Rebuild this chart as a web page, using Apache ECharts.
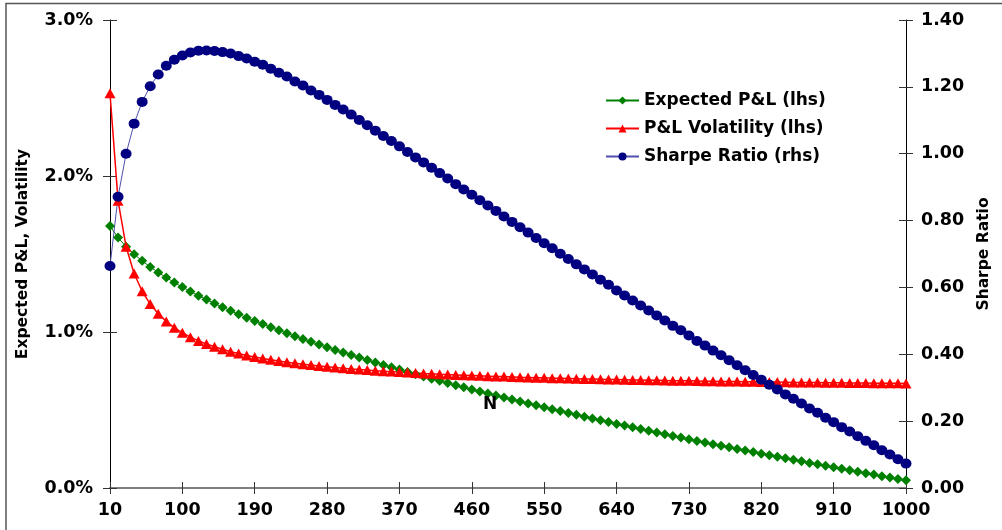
<!DOCTYPE html>
<html>
<head>
<meta charset="utf-8">
<script src="https://cdn.jsdelivr.net/npm/echarts@6/dist/echarts.min.js"></script>
<style>
html,body{margin:0;padding:0;background:#fff;}
#chart{width:1002px;height:530px;}
</style>
</head>
<body>
<div id="chart"></div>
<script>
const categories = [10,20,30,40,50,60,70,80,90,100,110,120,130,140,150,160,170,180,190,200,
210,220,230,240,250,260,270,280,290,300,310,320,330,340,350,360,370,380,390,400,
410,420,430,440,450,460,470,480,490,500,510,520,530,540,550,560,570,580,590,600,
610,620,630,640,650,660,670,680,690,700,710,720,730,740,750,760,770,780,790,800,
810,820,830,840,850,860,870,880,890,900,910,920,930,940,950,960,970,980,990,1000];

// Expected P&L (%), lhs
const expectedPL = [1.680,1.605,1.547,1.499,1.456,1.417,1.382,1.349,1.317,1.288,
1.260,1.233,1.208,1.183,1.159,1.136,1.114,1.092,1.071,1.051,
1.031,1.011,0.992,0.973,0.955,0.937,0.920,0.902,0.885,0.869,
0.852,0.836,0.820,0.804,0.789,0.774,0.759,0.744,0.729,0.715,
0.701,0.687,0.673,0.659,0.646,0.632,0.619,0.606,0.593,0.580,
0.567,0.554,0.542,0.530,0.517,0.505,0.493,0.481,0.469,0.457,
0.446,0.434,0.423,0.411,0.400,0.389,0.378,0.367,0.356,0.345,
0.334,0.324,0.313,0.302,0.292,0.281,0.271,0.261,0.250,0.240,
0.230,0.220,0.210,0.200,0.190,0.181,0.171,0.161,0.152,0.142,
0.133,0.123,0.114,0.104,0.095,0.086,0.076,0.067,0.058,0.049];

// P&L Volatility (%), lhs
const plVolatility = [2.530,1.842,1.547,1.375,1.261,1.179,1.117,1.068,1.028,0.995,
0.967,0.943,0.923,0.905,0.889,0.874,0.862,0.850,0.840,0.830,
0.822,0.814,0.806,0.800,0.793,0.788,0.782,0.777,0.772,0.768,
0.763,0.759,0.756,0.752,0.749,0.746,0.743,0.740,0.737,0.734,
0.732,0.729,0.727,0.725,0.723,0.721,0.719,0.717,0.715,0.714,
0.712,0.710,0.709,0.707,0.706,0.704,0.703,0.702,0.701,0.699,
0.698,0.697,0.696,0.695,0.694,0.693,0.692,0.691,0.690,0.689,
0.688,0.687,0.687,0.686,0.685,0.684,0.683,0.683,0.682,0.681,
0.681,0.680,0.679,0.679,0.678,0.677,0.677,0.676,0.676,0.675,
0.675,0.674,0.673,0.673,0.673,0.672,0.672,0.671,0.671,0.670];

// Sharpe Ratio, rhs
const sharpeRatio = [0.664,0.871,1.000,1.090,1.155,1.202,1.237,1.263,1.281,1.294,
1.303,1.308,1.309,1.307,1.304,1.300,1.292,1.285,1.275,1.266,
1.254,1.242,1.231,1.216,1.204,1.189,1.176,1.161,1.146,1.132,
1.117,1.101,1.085,1.069,1.053,1.038,1.022,1.005,0.989,0.974,
0.958,0.942,0.926,0.909,0.893,0.877,0.861,0.845,0.829,0.812,
0.796,0.780,0.764,0.748,0.732,0.717,0.701,0.685,0.669,0.654,
0.639,0.623,0.608,0.591,0.576,0.561,0.546,0.531,0.516,0.501,
0.485,0.472,0.456,0.440,0.426,0.411,0.397,0.382,0.367,0.352,
0.338,0.324,0.309,0.295,0.280,0.267,0.253,0.238,0.225,0.210,
0.197,0.182,0.169,0.155,0.141,0.128,0.113,0.100,0.086,0.073];

const seriesNames = ['Expected P&L (lhs)','P&L Volatility (lhs)','Sharpe Ratio (rhs)'];
const leftAxisName = 'Expected P&L, Volatility';
const rightAxisName = 'Sharpe Ratio';

const FONT = 'DejaVu Sans';
const tickLabel = {fontFamily: FONT, fontWeight: 'bold', fontSize: 17.5, color: '#000'};

const chart = echarts.init(document.getElementById('chart'), null, {renderer: 'canvas'});
chart.setOption({
  animation: false,
  backgroundColor: '#fff',
  grid: {left: 110, right: 96, top: 20, bottom: 42},
  legend: {
    orient: 'vertical', left: 600, top: 87, itemGap: 11,
    itemWidth: 33, itemHeight: 10,
    textStyle: {fontFamily: FONT, fontWeight: 'bold', fontSize: 17, color: '#000'},
    data: seriesNames
  },
  xAxis: [{
    type: 'category', data: categories, boundaryGap: false,
    axisLine: {lineStyle: {color: '#7f7f7f', width: 2}},
    axisTick: {interval: 8, length: 6, inside: false, lineStyle: {color: '#333'}},
    axisLabel: Object.assign({interval: 8, margin: 13}, tickLabel),
    splitLine: {show: false}
  }, {
    type: 'category', data: categories, boundaryGap: false, position: 'bottom',
    axisLine: {show: false},
    axisTick: {interval: 8, length: 6, inside: true, lineStyle: {color: '#333'}},
    axisLabel: {show: false}, splitLine: {show: false}
  }],
  yAxis: [{
    type: 'value', min: 0, max: 3, interval: 1, position: 'left',
    name: leftAxisName, nameLocation: 'middle', nameGap: 79, nameRotate: 90,
    nameTextStyle: {fontFamily: FONT, fontWeight: 'bold', fontSize: 15.5, color: '#000'},
    axisLine: {show: true, lineStyle: {color: '#000', width: 1}},
    axisTick: {show: true, length: 7, lineStyle: {color: '#333'}},
    axisLabel: Object.assign({margin: 17, formatter: v => v.toFixed(1) + '%'}, tickLabel),
    splitLine: {show: false}
  }, {
    type: 'value', min: 0, max: 1.4, interval: 0.2, position: 'right',
    name: rightAxisName, nameLocation: 'middle', nameGap: 70, nameRotate: 90,
    nameTextStyle: {fontFamily: FONT, fontWeight: 'bold', fontSize: 15.5, color: '#000'},
    axisLine: {show: true, lineStyle: {color: '#000', width: 1}},
    axisTick: {show: true, length: 7, lineStyle: {color: '#333'}},
    axisLabel: Object.assign({margin: 15, formatter: v => v.toFixed(2)}, tickLabel),
    splitLine: {show: false}
  }, {
    type: 'value', min: 0, max: 3, interval: 1, position: 'left', offset: 0,
    axisLine: {show: false}, axisLabel: {show: false}, splitLine: {show: false},
    axisTick: {show: true, inside: true, length: 7, lineStyle: {color: '#333'}}
  }, {
    type: 'value', min: 0, max: 1.4, interval: 0.2, position: 'right', offset: 0,
    axisLine: {show: false}, axisLabel: {show: false}, splitLine: {show: false},
    axisTick: {show: true, inside: true, length: 7, lineStyle: {color: '#333'}}
  }],
  series: [{
    name: seriesNames[0], type: 'line', data: expectedPL, yAxisIndex: 0,
    showAllSymbol: true, symbol: 'diamond', symbolSize: [10, 10],
    itemStyle: {color: '#008000'}, lineStyle: {color: '#008000', width: 1}
  }, {
    name: seriesNames[1], type: 'line', data: plVolatility, yAxisIndex: 0,
    showAllSymbol: true, symbol: 'triangle', symbolSize: [11, 10],
    itemStyle: {color: '#ff0000'}, lineStyle: {color: '#ff0000', width: 1.5}
  }, {
    name: seriesNames[2], type: 'line', data: sharpeRatio, yAxisIndex: 1,
    showAllSymbol: true, symbol: 'circle', symbolSize: [11, 10],
    itemStyle: {color: '#000080'}, lineStyle: {color: '#5050b0', width: 1}
  }],
  graphic: [{
    type: 'rect', silent: true, z: 100,
    shape: {x: 6, y: 3.5, width: 1010, height: 600},
    style: {fill: 'none', stroke: '#555', lineWidth: 1.5}
  }, {
    type: 'text', left: 483, top: 396, z: 100,
    style: {text: 'N', fontFamily: FONT, fontWeight: 'bold', fontSize: 17, fill: '#000'}
  }]
});
</script>
</body>
</html>
